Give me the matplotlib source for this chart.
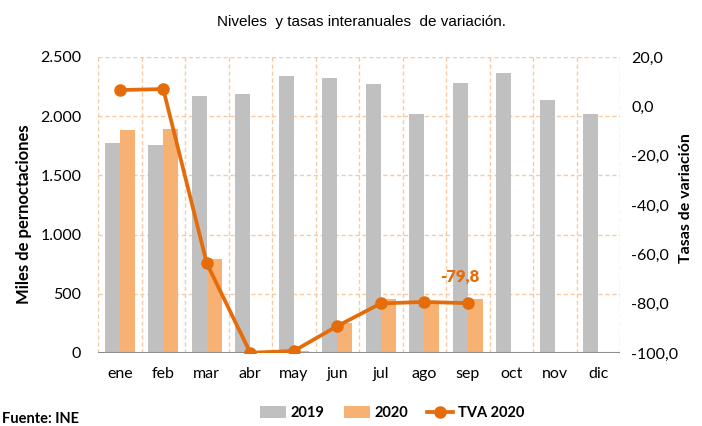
import numpy as np
import matplotlib.pyplot as plt
from matplotlib.ticker import FuncFormatter

# ── data ─────────────────────────────────────────────────────────────────────
meses = ["ene", "feb", "mar", "abr", "may", "jun",
         "jul", "ago", "sep", "oct", "nov", "dic"]
pernoct_2019 = [1770, 1760, 2170, 2190, 2340, 2320, 2270, 2020, 2280, 2365, 2137, 2019]
pernoct_2020 = [1885, 1890, 790, 5, 20, 250, 456, 422, 460, np.nan, np.nan, np.nan]
tva_2020 = [6.6, 7.0, -63.6, -99.9, -99.2, -89.1, -79.9, -79.3, -79.8,
            np.nan, np.nan, np.nan]

GRAY = "#c0c0c0"
ORANGE_BAR = "#f7b173"
ORANGE_LINE = "#e46c0a"
GRID = "#f9c9a0"
BODY_FONT = ["Lato", "DejaVu Sans"]

fig = plt.figure(figsize=(7.02, 4.26), dpi=100)
ax = fig.add_axes([98 / 702, 1 - 353 / 426, (620 - 98) / 702, (353 - 57) / 426])
ax2 = ax.twinx()

x = np.arange(len(meses))
w = 0.34
ax.bar(x - w / 2, pernoct_2019, w, color=GRAY, label="2019", zorder=3)
ax.bar(x + w / 2, pernoct_2020, w, color=ORANGE_BAR, label="2020", zorder=3)

ax2.plot(x, tva_2020, color=ORANGE_LINE, lw=2.7, marker="o", ms=8,
         label="TVA 2020", zorder=4)
ax2.annotate("-79,8", (x[8], tva_2020[8]), xytext=(-6, 13),
             textcoords="offset points", ha="center", va="bottom",
             color=ORANGE_LINE, fontsize=12, fontweight="heavy", family=BODY_FONT)

# axes
ax.set_xlim(-0.5, 11.5)
ax.set_ylim(0, 2500)
ax.set_yticks(np.arange(0, 2501, 500))
ax.yaxis.set_major_formatter(FuncFormatter(lambda v, p: f"{int(v):,}".replace(",", ".")))
ax2.set_ylim(-100, 20)
ax2.set_yticks(np.arange(-100, 21, 20))
ax2.yaxis.set_major_formatter(FuncFormatter(lambda v, p: f"{v:.1f}".replace(".", ",")))

ax.set_xticks(x)
ax.set_xticklabels(meses)

# grid: horizontal from left axis, vertical at category boundaries
for yv in np.arange(500, 2501, 500):
    ax.axhline(yv, color=GRID, lw=1, ls=(0, (3, 2)), zorder=1)
for xv in np.arange(-0.5, 11.6, 1):
    ax.axvline(xv, color=GRID, lw=1, ls=(0, (3, 2)), zorder=1)

for a in (ax, ax2):
    for s in ("top", "left", "right", "bottom"):
        a.spines[s].set_visible(False)
    a.tick_params(length=0)
ax.axhline(0, color="#8c8c8c", lw=1.5, zorder=5)

for lab in ax.get_xticklabels() + ax.get_yticklabels() + ax2.get_yticklabels():
    lab.set_fontfamily(BODY_FONT)
    lab.set_fontsize(11.5)
ax.tick_params(axis="x", pad=10)
ax.tick_params(axis="y", pad=12)
ax2.tick_params(axis="y", pad=8)

ax.set_ylabel("Miles de pernoctaciones", fontsize=12, fontweight="bold",
              family=BODY_FONT)
ax.yaxis.set_label_coords(-0.126, 0.47)
ax2.set_ylabel("Tasas de variación", fontsize=11.5, fontweight="bold",
               family=BODY_FONT)
ax2.yaxis.set_label_coords(1.113, 0.524)

fig.text(0.515, 1 - 22 / 426, "Niveles  y tasas interanuales  de variación.",
         ha="center", va="center", fontsize=11, family="Liberation Sans")

h1, l1 = ax.get_legend_handles_labels()
h2, l2 = ax2.get_legend_handles_labels()
fig.legend(h1 + h2, l1 + l2, ncol=3, loc="center",
           bbox_to_anchor=(392 / 702, 1 - 413 / 426), frameon=False,
           prop={"family": BODY_FONT, "weight": "bold", "size": 10.5},
           handlelength=1.8, handleheight=0.9, columnspacing=1.3,
           handletextpad=0.3)

fig.text(2 / 702, 1 - 412 / 426, "Fuente: INE", ha="left", va="top",
         fontsize=10.5, fontweight="bold", family=BODY_FONT)

fig.savefig("out.png", dpi=100)
